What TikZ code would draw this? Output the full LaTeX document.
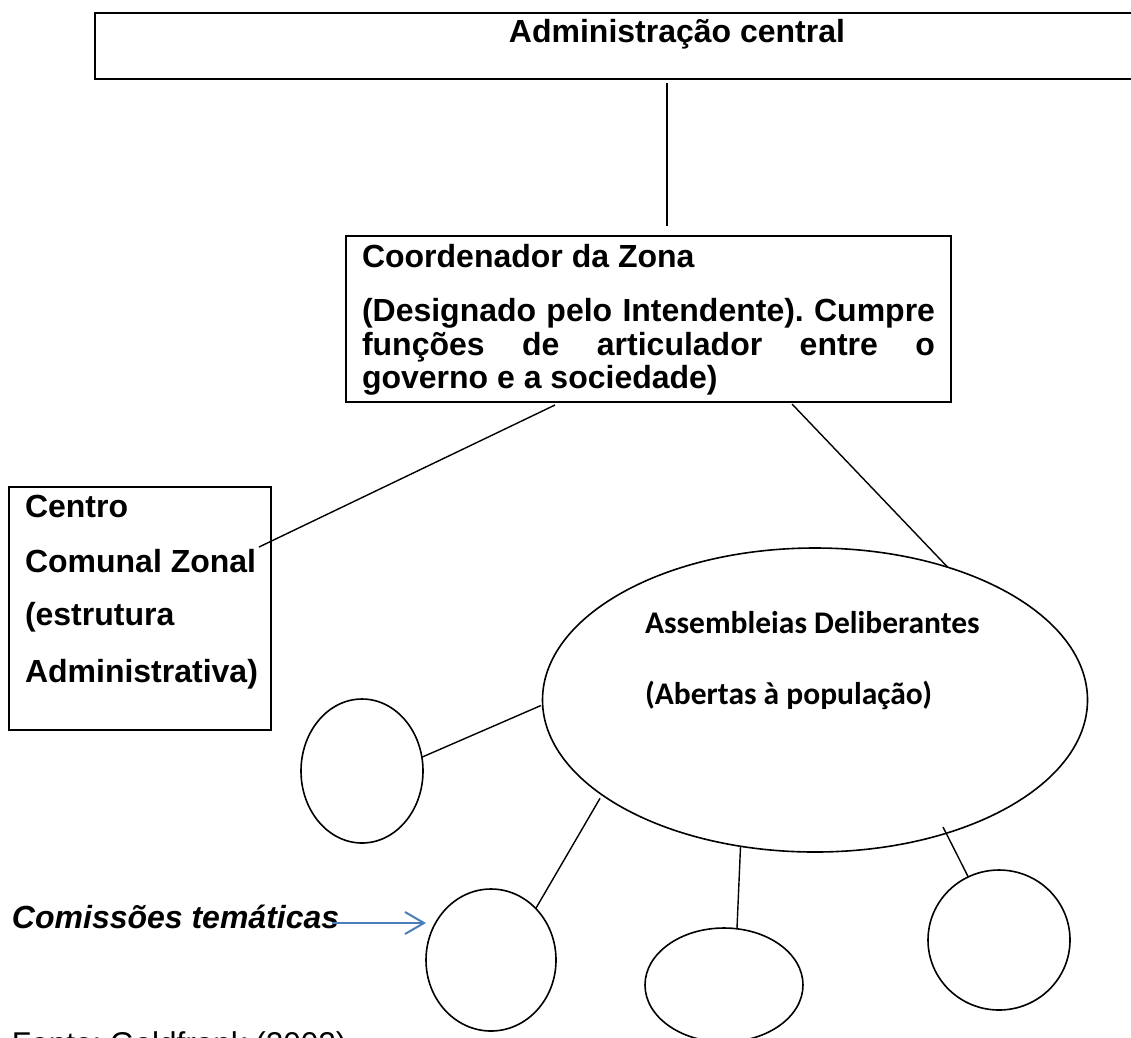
\documentclass[tikz,border=0pt]{standalone}
\usepackage{fontspec}
\setmainfont{Liberation Sans}
\newfontfamily\calib{Carlito}
\usetikzlibrary{shapes.geometric,arrows.meta,calc}
\definecolor{arrblue}{RGB}{74,126,187}
\frenchspacing
\begin{document}
\begin{tikzpicture}[x=1pt,y=-1pt,
  box/.style={draw,line width=2pt,inner sep=0pt,outer sep=0pt,anchor=north west},
  oval/.style={draw,ellipse,line width=1.6pt,inner sep=0pt,outer sep=0pt},
  conn/.style={line width=1.4pt},
  txt/.style={inner sep=0pt,outer sep=0pt,anchor=base west,font=\fontsize{32}{38}\selectfont\bfseries},
  ctxt/.style={inner sep=0pt,outer sep=0pt,anchor=base west,font=\calib\fontsize{31.5}{37}\selectfont\bfseries},
  itxt/.style={inner sep=0pt,outer sep=0pt,anchor=base west,font=\fontsize{32}{38}\selectfont\bfseries\itshape},
  rtxt/.style={inner sep=0pt,outer sep=0pt,anchor=base west,font=\fontsize{31.5}{38}\selectfont},
  arr/.style={draw=arrblue,line width=2pt,-{Straight Barb[length=19pt,width=22pt]}}]
\useasboundingbox (0,0) rectangle (1131,1037);
\clip (0,0) rectangle (1131,1037);
\fill[white] (0,0) rectangle (1131,1037);

% top box
\node[box,minimum width=1080pt,minimum height=66pt] (admin) at (95,13) {};
\node[txt,anchor=base] (admint) at (677,42) {Administração central};

% coordinator box
\node[box,minimum width=605pt,minimum height=166pt] (coord) at (346,236) {};
\node[txt] (coord1) at (362,267) {Coordenador da Zona};
\node[txt] (coord2) at (362,321) {\hbox to 573pt{(Designado pelo Intendente). Cumpre}};
\node[txt] (coord3) at (362,355) {\hbox to 573pt{funções\hfil de\hfil articulador\hfil entre\hfil o}};
\node[txt] (coord4) at (362,388) {governo e a sociedade)};

% centro comunal box
\node[box,minimum width=262pt,minimum height=243pt] (ccz) at (9,487) {};
\node[txt] (ccz1) at (25,517) {Centro};
\node[txt] (ccz2) at (25,572) {Comunal Zonal};
\node[txt] (ccz3) at (25,625) {(estrutura};
\node[txt] (ccz4) at (25,682) {Administrativa)};

% assembleias
\node[oval,minimum width=545pt,minimum height=304pt] (ae) at (815,700) {};
\node[ctxt] (ae1) at (645,633) {Assembleias Deliberantes};
\node[ctxt] (ae2) at (645,704) {(Abertas à população)};

% small ellipses
\node[oval,minimum width=122pt,minimum height=144pt] (sl) at (362,771) {};
\node[oval,minimum width=130pt,minimum height=142pt] (bl) at (491,960) {};
\node[oval,minimum width=158pt,minimum height=114pt] (bm) at (724,985) {};
\node[oval,minimum width=142pt,minimum height=140pt] (br) at (999,940) {};

% connectors
\draw[conn] ($(admin.south west)+(572,4)$) -- ($(coord.north west)+(321,-10)$);
\draw[conn] ($(coord.south west)+(446,2)$) -- (ae.45);
\coordinate (cczend) at ($(ccz.north east)+(-12,60)$);
\draw[conn] ($(coord.south west)+(209,3)$) -- (cczend);
\draw[conn,shorten >=2pt] (sl.13) -- (ae.181);
\draw[conn,shorten >=4pt] (bl.49) -- (ae.204);
\draw[conn] (bm.77) -- (ae.243);
\coordinate (brend) at ($(ae.center)+(128,127)$);
\draw[conn] (br.116) -- (brend);

% comissoes
\node[itxt] (comt) at (12,928) {Comissões temáticas};
\coordinate (arrS) at (332,923);
\draw[arr] (arrS) -- (arrS -| bl.west);

% fonte
\node[rtxt] (fonte) at (12,1054) {Fonte: Goldfrank (2002)};
\end{tikzpicture}
\end{document}
